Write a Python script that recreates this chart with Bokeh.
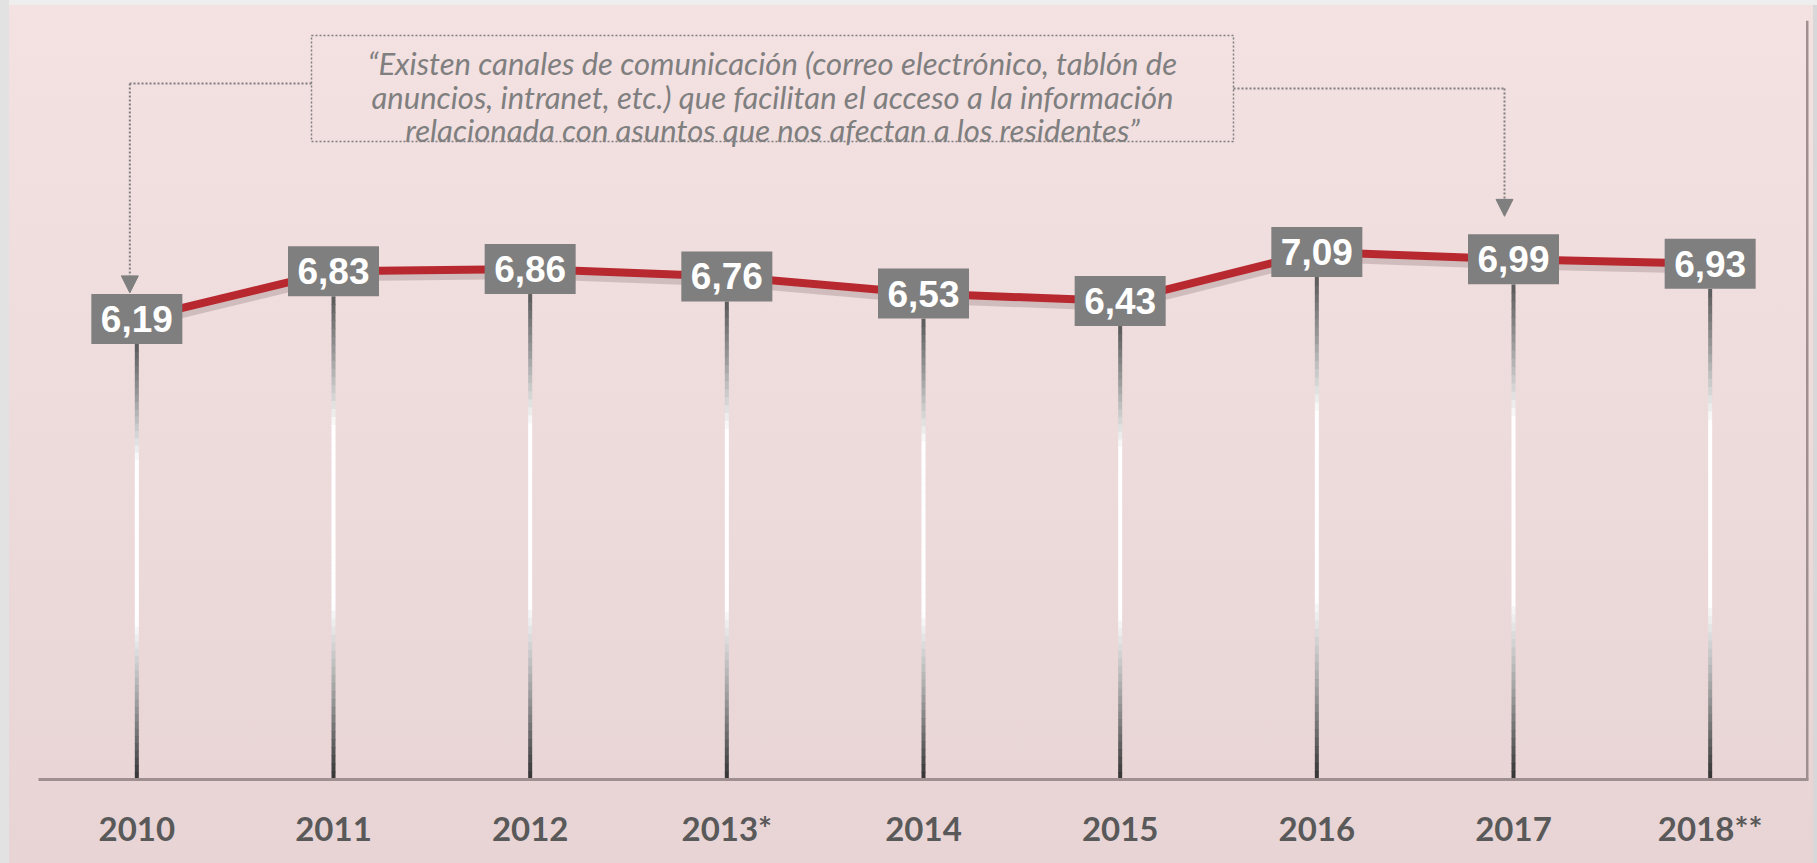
from bokeh.plotting import figure
from bokeh.models import Range1d, FixedTicker, Arrow, NormalHead, Span
from bokeh.core.properties import value
from bokeh.embed import file_html
from bokeh.resources import INLINE

# ---------------- data ----------------
years = ["2010", "2011", "2012", "2013*", "2014", "2015", "2016", "2017", "2018**"]
scores = [6.19, 6.83, 6.86, 6.76, 6.53, 6.43, 7.09, 6.99, 6.93]
labels = [f"{v:.2f}".replace(".", ",") for v in scores]
note_lines = [
    "\u201cExisten canales de comunicación (correo electrónico, tablón de",
    "anuncios, intranet, etc.) que facilitan el acceso a la información",
    "relacionada con asuntos que nos afectan a los residentes\u201d",
]
note_targets = ["2010", "2017"]

# ---------------- layout (pixel geometry of the page) ----------------
W, H = 1817, 863
LEFT, RIGHT = 38, 1808          # frame edges
BOTTOM = 779                    # frame bottom (y = 0)
Y_MAX = 10.2
PX = 74.4                       # pixels per unit in y
TOP = int(round(BOTTOM - Y_MAX * PX))
xs = list(range(len(years)))
XPX = (RIGHT - LEFT) / len(years)


def to_x(px):
    return -0.5 + (px - LEFT) / XPX


def to_y(py):
    return (BOTTOM - py) / PX


p = figure(width=W, height=H, output_backend="svg", toolbar_location=None,
           x_range=Range1d(-0.5, len(years) - 0.5), y_range=Range1d(0, Y_MAX),
           min_border_left=LEFT, min_border_right=W - RIGHT, min_border_top=TOP,
           min_border_bottom=H - BOTTOM)
p.styles = {"background": (
    "linear-gradient(to right, #e2e2e2 0px, #e2e2e2 9px, transparent 9px),"
    "linear-gradient(to bottom, #eeeeee 0px, #eeeeee 5px, transparent 5px),"
    "linear-gradient(to left, #d8d8d8 0px, #d8d8d8 4px, transparent 4px),"
    "linear-gradient(180deg, #f4e1e2 0%, #eddadb 55%, #e8d4d5 100%)")}
p.border_fill_alpha = 0
p.background_fill_alpha = 0
p.outline_line_color = None
p.grid.visible = False
p.yaxis.visible = False

ax = p.xaxis[0]
ax.ticker = FixedTicker(ticks=xs)
ax.major_label_overrides = {i: y for i, y in enumerate(years)}
ax.major_tick_line_color = None
ax.minor_tick_line_color = None
ax.axis_line_color = "#a08f90"
ax.axis_line_width = 3
ax.major_label_text_font = "Lato"
ax.major_label_text_font_style = "bold"
ax.major_label_text_font_size = "33px"
ax.major_label_text_color = "#595959"
ax.major_label_standoff = 22

p.add_layout(Span(location=len(years) - 0.5, dimension="height",
                  line_color="#a08f90", line_width=5))

# ---------------- stems with vertical gradient ----------------
BOX_W, BOX_H = 91, 50
stops = [(0.0, (90, 90, 90)), (0.12, (154, 154, 154)), (0.27, (255, 255, 255)),
         (0.64, (255, 255, 255)), (0.82, (160, 160, 160)), (1.0, (51, 51, 51))]


def grad(t):
    for (t0, c0), (t1, c1) in zip(stops[:-1], stops[1:]):
        if t <= t1:
            f = (t - t0) / (t1 - t0) if t1 > t0 else 0
            return "#%02x%02x%02x" % tuple(int(round(a + (b - a) * f)) for a, b in zip(c0, c1))
    return "#333333"


N = 60
sx0, sy0, sx1, sy1, sc = [], [], [], [], []
for x, v in zip(xs, scores):
    top = v - (BOX_H / 2) / PX
    for k in range(N):
        ya = top - top * k / N
        yb = top - top * (k + 1) / N
        sx0.append(x); sx1.append(x)
        sy0.append(ya); sy1.append(yb - 0.01)
        sc.append(grad((k + 0.5) / N))
p.segment(sx0, sy0, sx1, sy1, line_color=sc, line_width=4, line_cap="butt")

# ---------------- line with soft shadow ----------------
p.line(xs, [v - 5 / PX for v in scores], line_color="#6e5a5b", line_alpha=0.25, line_width=10)
p.line(xs, scores, line_color="#b8282f", line_width=8)

# ---------------- value boxes ----------------
p.rect(xs, scores, width=BOX_W, height=BOX_H, width_units="screen", height_units="screen",
       fill_color="#7f7f7f", line_color=None)
p.text(xs, scores, text=labels, text_align="center", text_baseline="middle",
       text_font=value("Liberation Sans"), text_font_style="bold",
       text_font_size="37px", text_color="white")

# ---------------- note box and connectors ----------------
GRAY = "#7f7f7f"
box_l, box_r = to_x(311), to_x(1233)
box_t, box_b = to_y(35), to_y(141)
p.quad(left=[box_l], right=[box_r], top=[box_t], bottom=[box_b], fill_alpha=0,
       line_color=GRAY, line_width=1.5, line_dash="2 2")
cx = (box_l + box_r) / 2
p.text([cx] * 3, [to_y(b) for b in (63, 97, 130)], text=note_lines,
       text_align="center", text_baseline="alphabetic", text_font=value("Lato"),
       text_font_style="italic", text_font_size="31px", text_color=GRAY)

# left connector -> 2010
i0 = years.index(note_targets[0])
xa = xs[i0] - 7 / XPX
yh = to_y(83)
p.line([box_l, xa], [yh, yh], line_color=GRAY, line_width=2, line_dash="2 2")
p.add_layout(Arrow(end=NormalHead(size=17, fill_color=GRAY, line_color=GRAY),
                   x_start=xa, y_start=yh, x_end=xa, y_end=scores[i0] + 26 / PX,
                   line_color=GRAY, line_width=2, line_dash="2 2"))

# right connector -> 2017
i1 = years.index(note_targets[1])
xb = xs[i1] - 9 / XPX
yh2 = to_y(88)
p.line([box_r, xb], [yh2, yh2], line_color=GRAY, line_width=2, line_dash="2 2")
p.add_layout(Arrow(end=NormalHead(size=17, fill_color=GRAY, line_color=GRAY),
                   x_start=xb, y_start=yh2, x_end=xb, y_end=scores[i1] + 43 / PX,
                   line_color=GRAY, line_width=2, line_dash="2 2"))

html = file_html(p, INLINE)
open("out.html", "w").write(html)
